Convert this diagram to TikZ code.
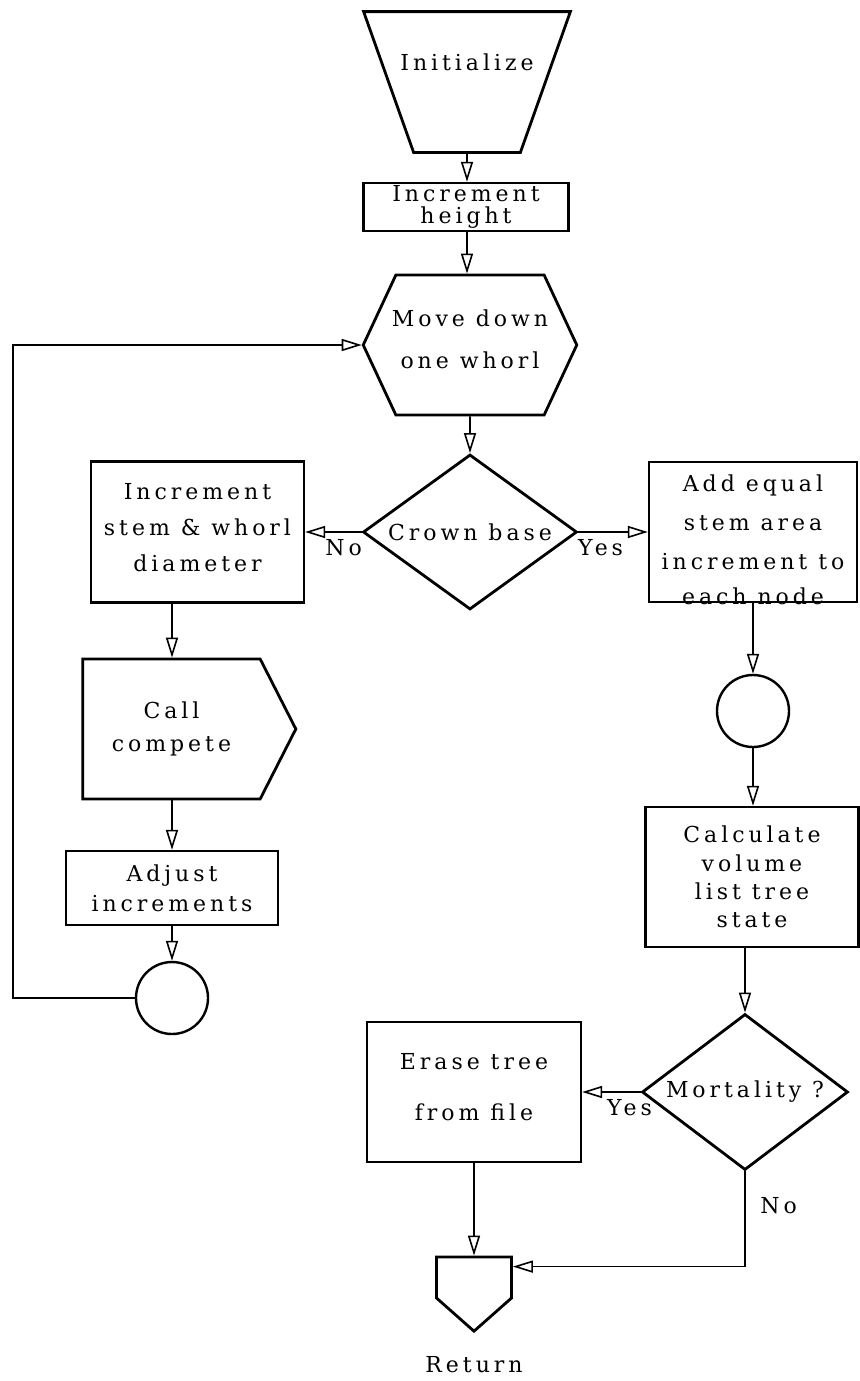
\documentclass[tikz,border=0pt]{standalone}
\usepackage{fontspec}
\setmainfont{DejaVu Serif}[LetterSpace=18]
\usetikzlibrary{shapes.geometric,shapes.symbols,arrows.meta}

\begin{document}
\begin{tikzpicture}[x=0.5pt, y=-0.5pt,
    txt/.style={font=\fontsize{11}{13.6}\selectfont, align=center},
    box/.style={txt, rectangle, draw, line width=1.2pt, inner sep=0pt},
    decision/.style={txt, diamond, draw, line width=1.4pt, inner sep=0pt},
    connect/.style={circle, draw, line width=1.2pt, minimum size=36pt, inner sep=0pt},
    link/.style={->, line width=0.8pt},
    >={Triangle[open,length=10pt,width=6pt]}]
        \useasboundingbox (0,0) rectangle (859,1381);
        % Nodes
        \node[txt, minimum width=103pt, minimum height=70pt, text depth=20pt, inner sep=0pt] (init) at (467,82) {Initialize};
        \draw[line width=1.4pt] (init.north west) -- (init.north east) -- ([xshift=-25pt]init.south east) -- ([xshift=25pt]init.south west) -- cycle;
        \node[box, minimum width=102.5pt, minimum height=24pt] (inch) at (466,207) {Increment\\[-3pt]height};
        \node[txt, signal, signal to=east and west, signal pointer angle=130, minimum width=105pt, minimum height=70pt, text depth=6pt, draw, line width=1.4pt, inner xsep=-2pt, inner ysep=0pt] (move) at (470,345) {Move down\\[7.4pt]one whorl};
        \node[decision, aspect=1.38, minimum width=107pt, minimum height=77.5pt] (crown) at (470,532) {Crown base};
        \node[box, minimum width=106.5pt, minimum height=70.5pt, text depth=5pt] (incs) at (197.5,532) {Increment\\[4.4pt]stem \& whorl\\[4.4pt]diameter};
        \node[box, minimum width=104pt, minimum height=70pt, label={[txt, yshift=-4pt]center:{Add equal\\[5.9pt]stem area\\[5.9pt]increment to\\[3.9pt]each node}}] (addeq) at (753,532) {};
        \node[txt, signal, signal to=east, signal pointer angle=126, minimum width=106.5pt, minimum height=70pt, draw, line width=1.4pt, inner sep=0pt] (callc) at (171.5,729) {Call\\[2.9pt]compete};
        \node[box, minimum width=106pt, minimum height=37pt] (adj) at (172,888) {Adjust\\[1.4pt]increments};
        \node[connect] (circa) at (172,998) {};
        \node[connect] (circb) at (753,711) {};
        \node[box, minimum width=106.5pt, minimum height=70pt] (calc) at (752,877) {Calculate\\[0.6pt]volume\\[0.6pt]list tree\\[0.6pt]state};
        \node[decision, aspect=1.32, minimum width=103pt, minimum height=78pt] (mort) at (745,1092) {Mortality ?};
        \node[box, minimum width=107pt, minimum height=70pt, text depth=5pt] (erase) at (474,1092) {Erase tree\\[12pt]from file};
        \node[txt, signal, signal to=south, signal pointer angle=97, minimum width=37.5pt, minimum height=20.5pt, draw, line width=1.4pt, inner sep=0pt, label={[txt, label distance=8pt]below:Return}] (ret) at (474,1277.5) {};
        \coordinate (loop) at (13,998);
        % Arrows
        \draw[link] (init) -- (init |- inch.north);
        \draw[link] (inch.south -| init) -- (init |- move.north);
        \draw[link] (move) -- (crown);
        \draw[link] (crown) -- node[txt, pos=0.32, below] {No} (incs);
        \draw[link] (crown) -- node[txt, pos=0.32, below] {Yes} (addeq);
        \draw[link] (incs.south -| adj) -- (adj |- callc.north);
        \draw[link] (callc.south -| adj) -- (adj);
        \draw[link] (adj) -- (circa);
        \draw[link] (circa) -- (loop) |- (move.west);
        \draw[link] (addeq) -- (circb);
        \draw[link] (circb) -- (circb |- calc.north);
        \draw[link] (calc.south -| mort) -- (mort);
        \draw[link] (mort) -- node[txt, pos=0.19, below] {Yes} (erase);
        \draw[link] (erase) -- (ret);
        \draw[link] (mort.south) |- node[txt, pos=0.18, right, xshift=4pt] {No} ([yshift=-5.5pt]ret.north east);
\end{tikzpicture}
\end{document}
